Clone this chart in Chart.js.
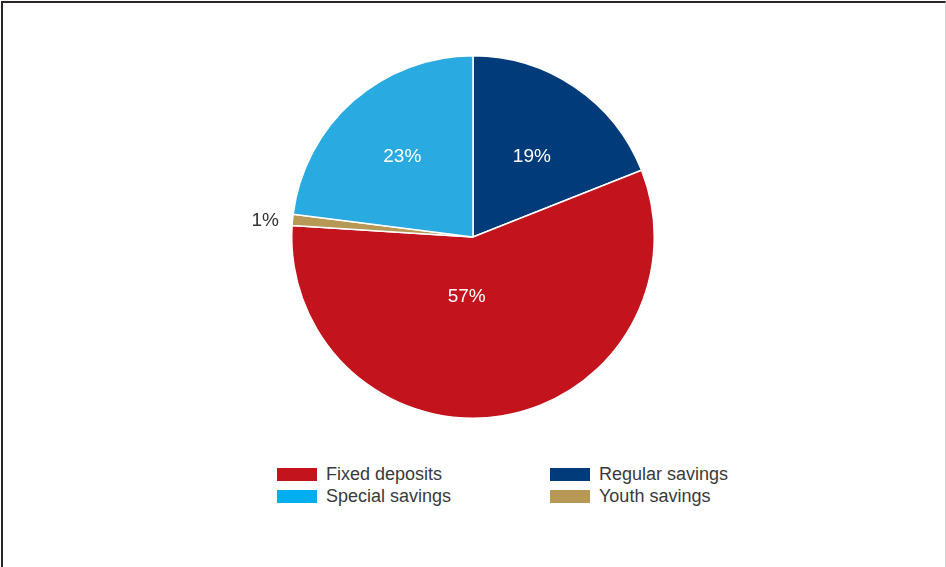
<!DOCTYPE html>
<html>
<head>
<meta charset="utf-8">
<script src="https://cdn.jsdelivr.net/npm/chart.js@4"></script>
<style>
  html, body { margin: 0; padding: 0; background: #fff; }
  body { width: 946px; height: 567px; position: relative; overflow: hidden; font-family: "Liberation Sans", Arial, sans-serif; }
  #frame { position: absolute; left: 1px; top: 1px; width: 942px; height: 600px; border-top: 2px solid #2b2729; border-left: 2px solid #2b2729; border-right: 1px solid #d0d0d0; }
  #wrap { position: absolute; left: 253px; top: 17px; width: 440px; height: 440px; }
  #legend { position: absolute; left: 277px; top: 464px; width: 470px; display: grid; grid-template-columns: 273px 197px; row-gap: 2px; }
  .item { display: flex; align-items: center; height: 20px; font-size: 18px; color: #3a3a3a; }
  .box { width: 40px; height: 13px; margin-right: 9px; }
</style>
</head>
<body>
<div id="frame"></div>
<div id="wrap"><canvas id="pieChart"></canvas></div>
<div id="legend"></div>
<script>
// Slices clockwise from 12 o'clock
const categories = ['Regular savings', 'Fixed deposits', 'Youth savings', 'Special savings'];
const shares = [19, 57, 1, 23];
const colors = ['#023b79', '#c3131c', '#b79955', '#29aae1'];
const legendOrder = ['Fixed deposits', 'Regular savings', 'Special savings', 'Youth savings'];
const legendColors = ['#c3131c', '#023b79', '#00adee', '#b79955'];
// label placement: distance as fraction of radius, angle nudge in degrees
const labelDist = [0.55, 0.33, 1.15, 0.59];
const labelTurn = [2, 15, -1, 0];
const labelColor = ['#fff', '#fff', '#333', '#fff'];

// labels on the slices
const sliceLabels = {
  id: 'sliceLabels',
  afterDatasetsDraw(chart) {
    const ctx = chart.ctx;
    const arcs = chart.getDatasetMeta(0).data;
    ctx.save();
    ctx.font = '19px "Liberation Sans", Arial, sans-serif';
    ctx.textAlign = 'center';
    ctx.textBaseline = 'middle';
    arcs.forEach((arc, i) => {
      const mid = (arc.startAngle + arc.endAngle) / 2 + labelTurn[i] * Math.PI / 180;
      const r = arc.outerRadius * labelDist[i];
      ctx.fillStyle = labelColor[i];
      ctx.fillText(shares[i] + '%', arc.x + Math.cos(mid) * r, arc.y + Math.sin(mid) * r);
    });
    ctx.restore();
  }
};

new Chart(document.getElementById('pieChart'), {
  type: 'pie',
  data: {
    labels: categories,
    datasets: [{
      data: shares,
      backgroundColor: colors,
      borderColor: '#ffffff',
      borderWidth: 1.5
    }]
  },
  options: {
    responsive: true,
    maintainAspectRatio: false,
    animation: false,
    layout: { padding: 38 },
    plugins: {
      legend: { display: false },
      tooltip: { enabled: false }
    }
  },
  plugins: [sliceLabels]
});

// Legend built from the same arrays
const legend = document.getElementById('legend');
legendOrder.forEach((name, i) => {
  const item = document.createElement('div');
  item.className = 'item';
  item.innerHTML = '<span class="box" style="background:' + legendColors[i] + '"></span>' + name;
  legend.appendChild(item);
});
</script>
</body>
</html>
